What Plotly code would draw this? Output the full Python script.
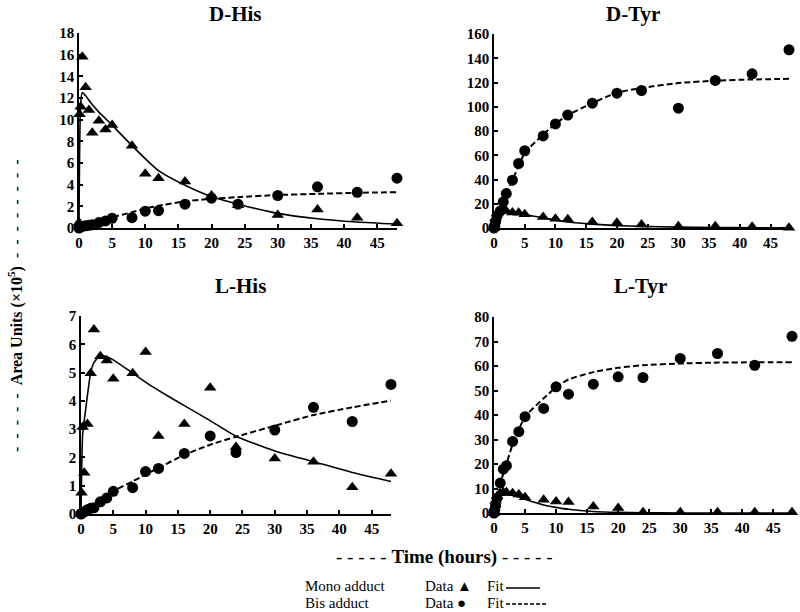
import plotly.graph_objects as go

# sampling times (hours) and fit evaluation times
t_data = [0, 0.08, 0.25, 0.5, 1, 1.5, 2, 3, 4, 5, 8, 10, 12, 16, 20, 24, 30, 36, 42, 48]
t_fit = [0, 0.25, 0.5, 1, 1.5, 2, 3, 4, 5, 8, 10, 12, 16, 20, 24, 30, 36, 42, 48]

# D-His
dhis_mono = [0.5, 10.5, 11.2, 15.8, 13.0, 10.9, 8.8, 9.9, 9.1, 9.5, 7.6, 5.0, 4.6, 4.3, 3.0, 2.1, 1.2, 1.7, 0.95, 0.45]
dhis_bis = [0, 0.05, 0.1, 0.15, 0.2, 0.25, 0.3, 0.5, 0.65, 0.9, 0.95, 1.55, 1.6, 2.2, 2.75, 2.2, 3.0, 3.8, 3.3, 4.6]
dhis_mono_fit = [0, 11.5, 12.5, 12.2, 11.8, 11.4, 10.7, 10.1, 9.5, 7.6, 6.4, 5.3, 3.95, 2.9, 2.2, 1.35, 0.85, 0.55, 0.35]
dhis_bis_fit = [0, 0.05, 0.1, 0.2, 0.35, 0.45, 0.65, 0.85, 1.0, 1.45, 1.8, 2.05, 2.45, 2.7, 2.85, 3.05, 3.15, 3.25, 3.3]

# D-Tyr
dtyr_mono = [0, 3, 8, 12, 14, 15, 14, 12.7, 12.5, 11.3, 9.1, 7.7, 7.2, 5.0, 4.4, 2.8, 1.4, 1.4, 1.0, 0.3]
dtyr_bis = [0, 2, 5, 10, 14, 21.5, 28.4, 39.4, 53.2, 63.7, 75.9, 85.8, 93.2, 102.9, 111.2, 113.4, 98.8, 121.7, 127.2, 147]
dtyr_mono_fit = [0, 5, 9, 13, 14, 14, 13, 12, 11, 8.5, 6.5, 5, 3.2, 2, 1.3, 0.7, 0.4, 0.2, 0.1]
dtyr_bis_fit = [0, 3, 7, 14.5, 21, 28, 39.5, 51, 62, 77, 86, 93, 103, 111.5, 115.5, 119.5, 121.5, 122.5, 123]

# L-His
lhis_mono = [0, 0.75, 3.08, 1.46, 3.18, 4.98, 6.52, 5.58, 5.43, 4.78, 4.98, 5.73, 2.76, 3.18, 4.46, 2.37, 1.96, 1.85, 0.95, 1.42]
lhis_bis = [0, 0.02, 0.05, 0.08, 0.15, 0.2, 0.22, 0.43, 0.57, 0.8, 0.93, 1.5, 1.61, 2.14, 2.76, 2.17, 2.97, 3.77, 3.27, 4.58]
lhis_mono_fit = [0, 2.8, 3.3, 4.2, 5.0, 5.35, 5.6, 5.56, 5.45, 4.98, 4.66, 4.37, 3.83, 3.3, 2.75, 2.23, 1.85, 1.47, 1.15]
lhis_bis_fit = [0, 0.03, 0.07, 0.15, 0.24, 0.33, 0.5, 0.66, 0.81, 1.15, 1.4, 1.63, 2.09, 2.45, 2.73, 3.12, 3.5, 3.77, 4.01]

# L-Tyr
ltyr_mono = [0, 2, 5, 6.8, 8.1, 8.5, 8.5, 8.1, 7.5, 6.4, 5.4, 4.7, 4.5, 2.7, 2.0, 0.3, 0.3, 0.3, 0.3, 0.3]
ltyr_bis = [0, 1, 3, 6, 12.2, 17.9, 19.3, 29.2, 33.2, 39.3, 42.7, 51.5, 48.5, 52.6, 55.6, 55.3, 63.1, 65.1, 60.3, 72.1]
ltyr_mono_fit = [0, 3, 5.5, 7.3, 7.6, 7.6, 7.2, 6.5, 5.6, 3.3, 2.3, 1.5, 0.6, 0.25, 0.1, 0.03, 0, 0, 0]
ltyr_bis_fit = [0, 2, 5, 12, 16, 20, 28, 34, 39.3, 46.8, 51.3, 54.5, 57.5, 59.3, 60.3, 61, 61.4, 61.5, 61.5]

panels = [
    ("D-His", dhis_mono, dhis_bis, dhis_mono_fit, dhis_bis_fit, 18, 2),
    ("D-Tyr", dtyr_mono, dtyr_bis, dtyr_mono_fit, dtyr_bis_fit, 160, 20),
    ("L-His", lhis_mono, lhis_bis, lhis_mono_fit, lhis_bis_fit, 7, 1),
    ("L-Tyr", ltyr_mono, ltyr_bis, ltyr_mono_fit, ltyr_bis_fit, 80, 10),
]

W, H = 800, 612
FONT = "Liberation Serif"


def px(x):
    return x / W


def py(y):
    return 1 - y / H


# pixel boxes (left, right, top, bottom) of each plot area
boxes = [(79, 397, 33, 228), (494, 789, 34, 228), (81, 391, 316, 514), (494, 792, 317, 513)]

fig = go.Figure()
layout = {}
for i, (name, mono, bis, mfit, bfit, ymax, dy) in enumerate(panels):
    n = "" if i == 0 else str(i + 1)
    xa, ya = "x" + n, "y" + n
    fig.add_trace(go.Scatter(x=t_fit, y=mfit, mode="lines", xaxis=xa, yaxis=ya, cliponaxis=False,
                             line=dict(color="black", width=1.6, shape="spline", smoothing=0.6)))
    fig.add_trace(go.Scatter(x=t_fit, y=bfit, mode="lines", xaxis=xa, yaxis=ya, cliponaxis=False,
                             line=dict(color="black", width=2, dash="6px,3px", shape="spline", smoothing=0.6)))
    fig.add_trace(go.Scatter(x=t_data, y=mono, mode="markers", xaxis=xa, yaxis=ya, cliponaxis=False,
                             marker=dict(symbol="triangle-up", size=11, color="black")))
    fig.add_trace(go.Scatter(x=t_data, y=bis, mode="markers", xaxis=xa, yaxis=ya, cliponaxis=False,
                             marker=dict(symbol="circle", size=11, color="black")))
    l, r, t, b = boxes[i]
    ax_common = dict(showline=True, linecolor="black", linewidth=1.5, ticks="inside", automargin=False,
                     ticklen=4, tickcolor="black", tickwidth=1.5, showgrid=False, zeroline=False,
                     tickfont=dict(family=FONT, size=15, color="black", weight="bold"))
    layout["xaxis" + n] = dict(ax_common, domain=[px(l), px(r)], range=[0, 48], anchor=ya,
                               tickmode="array", tickvals=list(range(0, 50, 5)))
    layout["yaxis" + n] = dict(ax_common, domain=[py(b), py(t)], range=[0, ymax],
                               anchor=xa, dtick=dy)

ann = []


def text(s, x, y, size, anchor="center", angle=0):
    ann.append(dict(text=s, x=px(x), y=py(y), xref="paper", yref="paper", showarrow=False,
                    xanchor=anchor, yanchor="middle", textangle=angle,
                    font=dict(family=FONT, size=size, color="black")))


text("<b>D-His</b>", 235, 14, 21)
text("<b>D-Tyr</b>", 633, 14, 21)
text("<b>L-His</b>", 240, 286, 21)
text("<b>L-Tyr</b>", 640, 286, 21)

dash = "-\u2002"
text(dash * 5 + "<b>Area Units (×10<sup>5</sup>)</b>\u2002" + dash * 8, 15, 302, 16, angle=-90)
text("- - - - - <b>Time (hours)</b> - - - - -", 444, 557, 19)

text("Mono adduct", 303, 586, 15, "left")
text("Bis adduct", 303, 603, 15, "left")
text("Data \u25B2", 423, 586, 15, "left")
text("Data \u25CF", 423, 603, 15, "left")
text("Fit", 485, 586, 15, "left")
text("Fit", 485, 603, 15, "left")

shapes = [
    dict(type="line", xref="paper", yref="paper", x0=px(506), x1=px(540), y0=py(588), y1=py(588),
         line=dict(color="black", width=1.6)),
    dict(type="line", xref="paper", yref="paper", x0=px(506), x1=px(548), y0=py(604), y1=py(604),
         line=dict(color="black", width=1.6, dash="4px,2px")),
]

fig.update_layout(width=W, height=H, margin=dict(l=0, r=0, t=0, b=0), showlegend=False,
                  plot_bgcolor="white", paper_bgcolor="white", annotations=ann, shapes=shapes,
                  font=dict(family=FONT, color="black"), **layout)

# drop the default 8px page margin so the figure sits at the window corner
fig.write_html("out.html", config={"displayModeBar": False},
               post_script="document.body.style.margin='0px';")
